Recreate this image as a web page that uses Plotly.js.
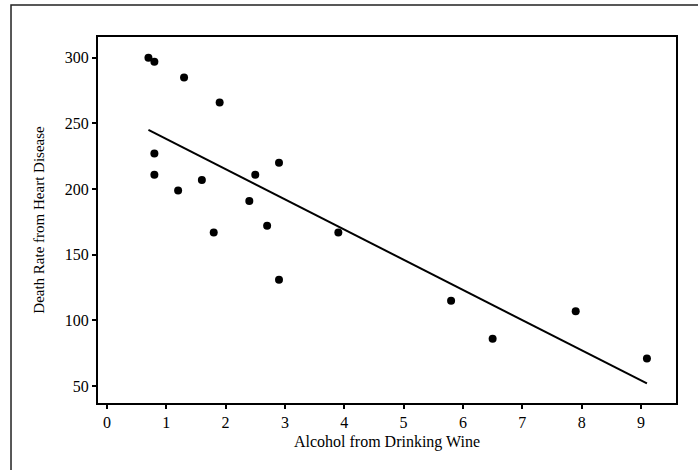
<!DOCTYPE html>
<html>
<head>
<meta charset="utf-8">
<script src="https://cdn.plot.ly/plotly-3.0.1.min.js"></script>
<style>
  html, body { margin: 0; padding: 0; background: #ffffff; }
  #chart { width: 698px; height: 470px; }
</style>
</head>
<body>
<div id="chart"></div>
<script>
// Wine consumption (alcohol from drinking wine) vs. heart disease death rate
const wineAlcohol = [2.5, 3.9, 2.9, 2.4, 2.9, 0.8, 9.1, 0.8, 0.7, 7.9, 1.8, 1.9, 0.8, 6.5, 1.6, 5.8, 1.3, 1.2, 2.7];
const deathRate   = [211, 167, 131, 191, 220, 297, 71, 211, 300, 107, 167, 266, 227, 86, 207, 115, 285, 199, 172];

// Fitted regression line endpoints
const fitX = [0.7, 9.1];
const fitY = [245, 52];

const xTicks = [0, 1, 2, 3, 4, 5, 6, 7, 8, 9];
const yTicks = [50, 100, 150, 200, 250, 300];

const fontFamily = '"Liberation Serif", "Times New Roman", serif';

const traces = [
  {
    x: fitX, y: fitY, type: 'scatter', mode: 'lines',
    line: { color: '#000000', width: 2 },
    hoverinfo: 'skip', showlegend: false
  },
  {
    x: wineAlcohol, y: deathRate, type: 'scatter', mode: 'markers',
    marker: { color: '#000000', size: 8, symbol: 'circle' },
    showlegend: false
  }
];

const axisCommon = {
  showgrid: false, zeroline: false,
  showline: true, linecolor: '#000000', linewidth: 2, mirror: true,
  ticks: 'outside', ticklen: 4, tickwidth: 2, tickcolor: '#000000',
  tickfont: { family: fontFamily, size: 16, color: '#000000' }
};

const layout = {
  width: 698, height: 470,
  margin: { l: 98, r: 22, t: 37, b: 67 },
  paper_bgcolor: '#ffffff', plot_bgcolor: '#ffffff',
  font: { family: fontFamily, size: 16, color: '#000000' },
  showlegend: false,
  xaxis: Object.assign({}, axisCommon, {
    range: [-0.15, 9.59],
    tickmode: 'array', tickvals: xTicks, ticktext: xTicks.map(String),
    title: { text: 'Alcohol from Drinking Wine', font: { family: fontFamily, size: 16, color: '#000000' }, standoff: 6 }
  }),
  yaxis: Object.assign({}, axisCommon, {
    range: [37.1, 315.8],
    tickmode: 'array', tickvals: yTicks, ticktext: yTicks.map(String),
    title: { text: 'Death Rate from Heart Disease', font: { family: fontFamily, size: 15, color: '#000000' }, standoff: 17 }
  }),
  shapes: [
    {
      type: 'rect', xref: 'paper', yref: 'paper',
      x0: -0.1505, x1: 1.2, y0: -0.3, y1: 1.0874,
      line: { color: '#222222', width: 1.5 }, fillcolor: 'rgba(0,0,0,0)', layer: 'below'
    }
  ]
};

Plotly.newPlot('chart', traces, layout, { displayModeBar: false, staticPlot: true });
</script>
</body>
</html>
